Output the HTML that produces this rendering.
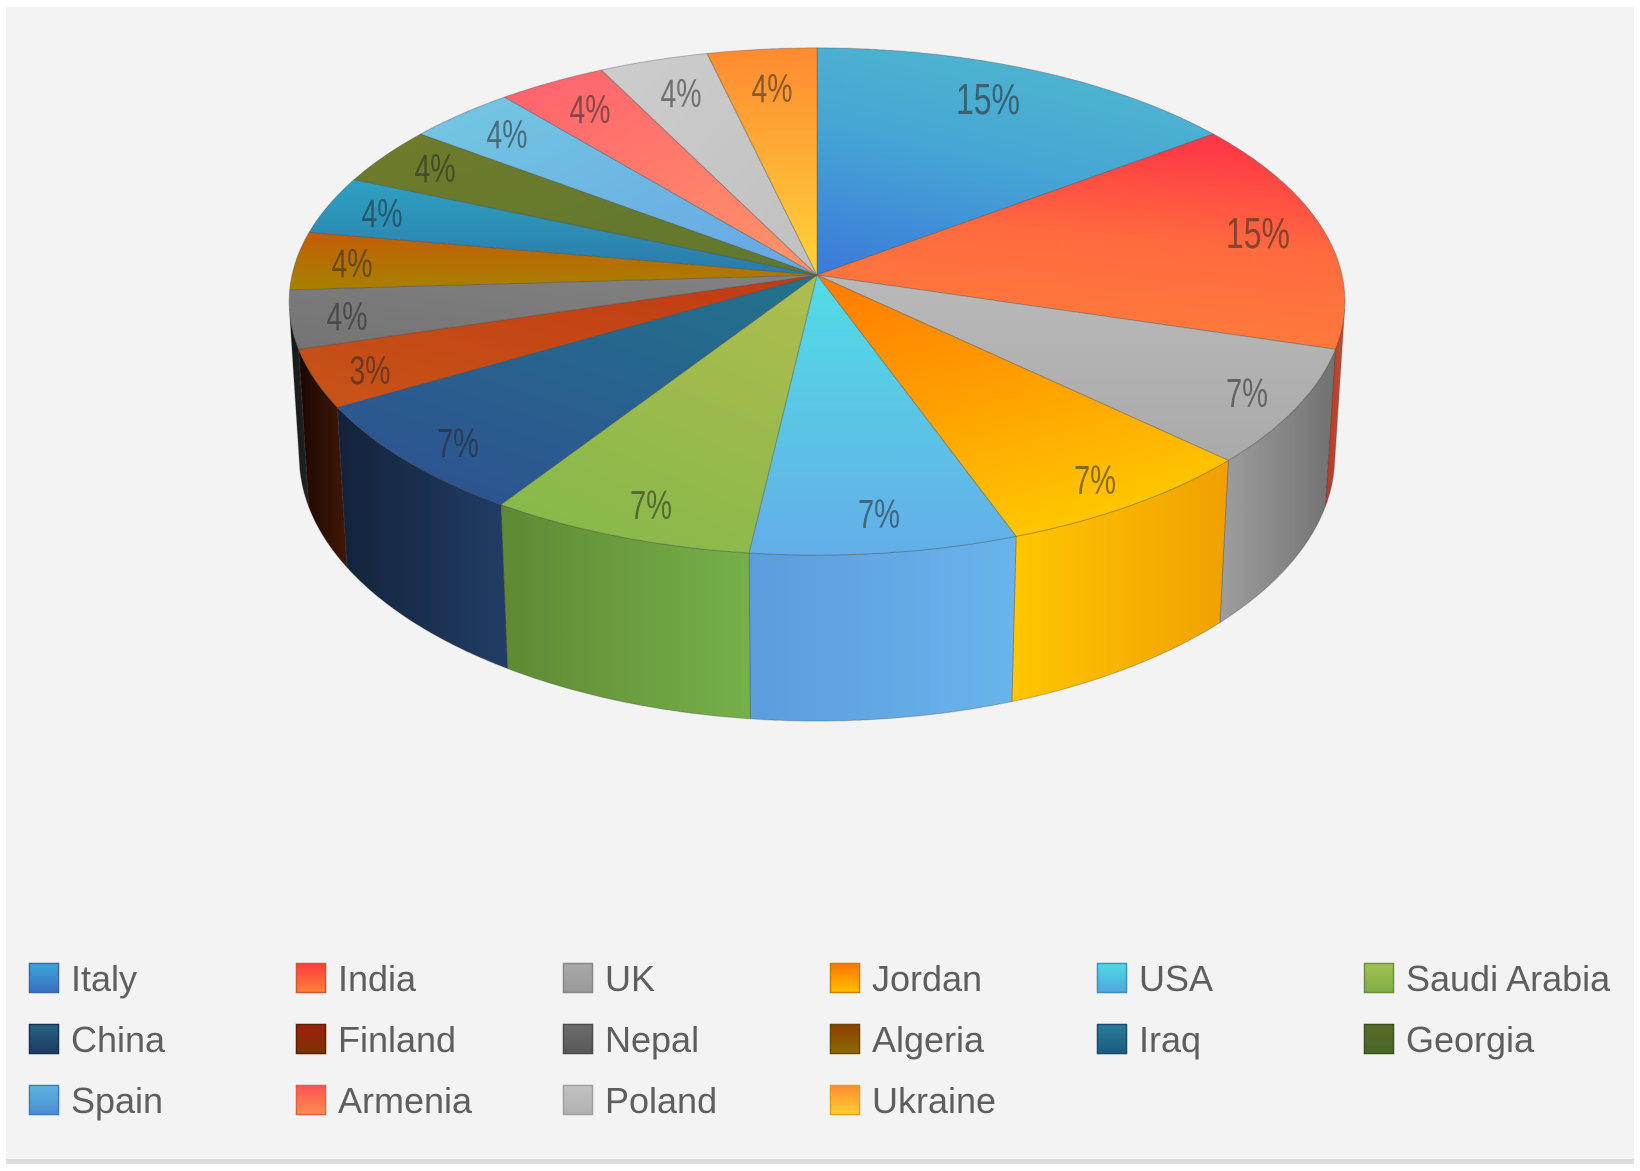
<!DOCTYPE html>
<html>
<head>
<meta charset="utf-8">
<style>
html,body{margin:0;padding:0;background:#fff;}
svg{display:block;}
text{font-family:"Liberation Sans",Arial,sans-serif;}
</style>
</head>
<body>
<svg id="chart" width="1640" height="1171" viewBox="0 0 1640 1171" xmlns="http://www.w3.org/2000/svg">
<rect x="0" y="0" width="1640" height="1171" fill="#ffffff"/>
<rect x="6" y="7" width="1628" height="1152" fill="#f3f3f3"/>
<rect x="6" y="1159" width="1628" height="5" fill="#dcdcdc"/>
<defs id="defs">
<linearGradient id="m0" x1="0" y1="0" x2="0" y2="1"><stop offset="0" stop-color="#3aa6d8"/><stop offset="1" stop-color="#3a6fc0"/></linearGradient>
<linearGradient id="m1" x1="0" y1="0" x2="0" y2="1"><stop offset="0" stop-color="#ff3b3b"/><stop offset="1" stop-color="#ff803a"/></linearGradient>
<linearGradient id="m2" x1="0" y1="0" x2="0" y2="1"><stop offset="0" stop-color="#a8a8a8"/><stop offset="1" stop-color="#999999"/></linearGradient>
<linearGradient id="m3" x1="0" y1="0" x2="0" y2="1"><stop offset="0" stop-color="#ff7400"/><stop offset="1" stop-color="#ffc000"/></linearGradient>
<linearGradient id="m4" x1="0" y1="0" x2="0" y2="1"><stop offset="0" stop-color="#4fdae8"/><stop offset="1" stop-color="#4fa6dc"/></linearGradient>
<linearGradient id="m5" x1="0" y1="0" x2="0" y2="1"><stop offset="0" stop-color="#a2c052"/><stop offset="1" stop-color="#80ae48"/></linearGradient>
<linearGradient id="m6" x1="0" y1="0" x2="0" y2="1"><stop offset="0" stop-color="#246282"/><stop offset="1" stop-color="#1e3c66"/></linearGradient>
<linearGradient id="m7" x1="0" y1="0" x2="0" y2="1"><stop offset="0" stop-color="#a01e10"/><stop offset="1" stop-color="#7a3400"/></linearGradient>
<linearGradient id="m8" x1="0" y1="0" x2="0" y2="1"><stop offset="0" stop-color="#6c6c6c"/><stop offset="1" stop-color="#585858"/></linearGradient>
<linearGradient id="m9" x1="0" y1="0" x2="0" y2="1"><stop offset="0" stop-color="#8e3e00"/><stop offset="1" stop-color="#8a6c00"/></linearGradient>
<linearGradient id="m10" x1="0" y1="0" x2="0" y2="1"><stop offset="0" stop-color="#2a7c9c"/><stop offset="1" stop-color="#1a5a80"/></linearGradient>
<linearGradient id="m11" x1="0" y1="0" x2="0" y2="1"><stop offset="0" stop-color="#5a6a28"/><stop offset="1" stop-color="#486828"/></linearGradient>
<linearGradient id="m12" x1="0" y1="0" x2="0" y2="1"><stop offset="0" stop-color="#5cb4e2"/><stop offset="1" stop-color="#4a8ed0"/></linearGradient>
<linearGradient id="m13" x1="0" y1="0" x2="0" y2="1"><stop offset="0" stop-color="#ff5252"/><stop offset="1" stop-color="#ff8c52"/></linearGradient>
<linearGradient id="m14" x1="0" y1="0" x2="0" y2="1"><stop offset="0" stop-color="#c2c2c2"/><stop offset="1" stop-color="#b0b0b0"/></linearGradient>
<linearGradient id="m15" x1="0" y1="0" x2="0" y2="1"><stop offset="0" stop-color="#ff8a30"/><stop offset="1" stop-color="#ffd030"/></linearGradient>
</defs>
<g id="walls"></g>
<g id="tops"></g>

<g fill="#262626" fill-opacity="0.55" text-anchor="middle">
<text x="988" y="114" font-size="44" textLength="64" lengthAdjust="spacingAndGlyphs">15%</text>
<text x="1258" y="248" font-size="44" textLength="64" lengthAdjust="spacingAndGlyphs">15%</text>
<text x="1247" y="407" font-size="41" textLength="42" lengthAdjust="spacingAndGlyphs">7%</text>
<text x="1095" y="494" font-size="41" textLength="42" lengthAdjust="spacingAndGlyphs">7%</text>
<text x="879" y="528" font-size="41" textLength="42" lengthAdjust="spacingAndGlyphs">7%</text>
<text x="651" y="519" font-size="41" textLength="42" lengthAdjust="spacingAndGlyphs">7%</text>
<text x="458" y="457" font-size="41" textLength="42" lengthAdjust="spacingAndGlyphs">7%</text>
<text x="370" y="384" font-size="40" textLength="41" lengthAdjust="spacingAndGlyphs">3%</text>
<text x="347" y="330" font-size="40" textLength="41" lengthAdjust="spacingAndGlyphs">4%</text>
<text x="352" y="277" font-size="40" textLength="41" lengthAdjust="spacingAndGlyphs">4%</text>
<text x="382" y="227" font-size="40" textLength="41" lengthAdjust="spacingAndGlyphs">4%</text>
<text x="435" y="182" font-size="40" textLength="41" lengthAdjust="spacingAndGlyphs">4%</text>
<text x="507" y="148" font-size="40" textLength="41" lengthAdjust="spacingAndGlyphs">4%</text>
<text x="590" y="123" font-size="40" textLength="41" lengthAdjust="spacingAndGlyphs">4%</text>
<text x="681" y="107" font-size="40" textLength="41" lengthAdjust="spacingAndGlyphs">4%</text>
<text x="772" y="102" font-size="40" textLength="41" lengthAdjust="spacingAndGlyphs">4%</text>
</g>

<g stroke-width="1.5">
<rect x="29.5" y="963.5" width="29" height="29" fill="url(#m0)" stroke="#3a68a4"/>
<rect x="296.5" y="963.5" width="29" height="29" fill="url(#m1)" stroke="#cc5a30"/>
<rect x="563.5" y="963.5" width="29" height="29" fill="url(#m2)" stroke="#888888"/>
<rect x="830.5" y="963.5" width="29" height="29" fill="url(#m3)" stroke="#c48000"/>
<rect x="1097.5" y="963.5" width="29" height="29" fill="url(#m4)" stroke="#3f90c0"/>
<rect x="1364.5" y="963.5" width="29" height="29" fill="url(#m5)" stroke="#6a9040"/>
<rect x="29.5" y="1024.5" width="29" height="29" fill="url(#m6)" stroke="#1a3050"/>
<rect x="296.5" y="1024.5" width="29" height="29" fill="url(#m7)" stroke="#5a2000"/>
<rect x="563.5" y="1024.5" width="29" height="29" fill="url(#m8)" stroke="#4a4a4a"/>
<rect x="830.5" y="1024.5" width="29" height="29" fill="url(#m9)" stroke="#6a4800"/>
<rect x="1097.5" y="1024.5" width="29" height="29" fill="url(#m10)" stroke="#1a4a6a"/>
<rect x="1364.5" y="1024.5" width="29" height="29" fill="url(#m11)" stroke="#3a5020"/>
<rect x="29.5" y="1085.5" width="29" height="29" fill="url(#m12)" stroke="#3a7cc0"/>
<rect x="296.5" y="1085.5" width="29" height="29" fill="url(#m13)" stroke="#e06040"/>
<rect x="563.5" y="1085.5" width="29" height="29" fill="url(#m14)" stroke="#a0a0a0"/>
<rect x="830.5" y="1085.5" width="29" height="29" fill="url(#m15)" stroke="#e0a020"/>
</g>
<g fill="#5e5e5e" font-size="36">
<text x="71" y="991">Italy</text>
<text x="338" y="991">India</text>
<text x="605" y="991">UK</text>
<text x="872" y="991">Jordan</text>
<text x="1139" y="991">USA</text>
<text x="1406" y="991">Saudi Arabia</text>
<text x="71" y="1052">China</text>
<text x="338" y="1052">Finland</text>
<text x="605" y="1052">Nepal</text>
<text x="872" y="1052">Algeria</text>
<text x="1139" y="1052">Iraq</text>
<text x="1406" y="1052">Georgia</text>
<text x="71" y="1113">Spain</text>
<text x="338" y="1113">Armenia</text>
<text x="605" y="1113">Poland</text>
<text x="872" y="1113">Ukraine</text>
</g>
</svg>
<script>
(function(){
  var F=4415, D=8.41, PH=0.4981, CX=817, CY=275, H=0.341;
  var sp=Math.sin(PH), cp=Math.cos(PH);
  function P(t,r,y){
    var a=t*Math.PI/180, X=r*Math.sin(a), Z=r*Math.cos(a);
    var vy=y-D*sp, vz=Z+D*cp;
    var dep=-vy*sp+vz*cp, yc=vy*cp+vz*sp;
    return [CX+F*X/dep, CY-F*yc/dep];
  }
  function f(p){return p[0].toFixed(1)+','+p[1].toFixed(1);}
  var data=[
    [4,[["#4fb6d0",0],["#45a4d4",0.5],["#3c7cda",1]],[0.55,0,0.15,1],null],
    [4,[["#ff3846",0],["#ff6a3e",0.45],["#ff7e3b",1]],[0.5,0,0.3,1],["#b03a2a","#c84a30"]],
    [2,[["#b9b9b9",0],["#aaaaaa",1]],[0.5,0,0.5,1],["#9e9e9e","#717171"]],
    [2,[["#ff7c00",0],["#ffa000",0.5],["#ffc700",1]],[0.1,0,0.5,1],["#ffc600","#f0a000"]],
    [2,[["#52dce6",0],["#5ac6e6",0.5],["#63aee8",1]],[0.5,0,0.5,1],["#5b9ddc","#69b4ec"]],
    [2,[["#abbd4e",0],["#9aba4c",0.5],["#86ba4a",1]],[0.8,0,0.3,1],["#5e8934","#76b048"]],
    [2,[["#22728c",0],["#28628e",0.5],["#2d5290",1]],[0.9,0,0.2,1],["#132239","#213d66"]],
    [1,[["#c03a12",0],["#c85418",1]],[1,0,0,1],["#1c0700","#401808"]],
    [1,[["#828282",0],["#747474",1]],[1,0,0,1],["#161616","#222222"]],
    [1,[["#c45c08",0],["#b47002",0.5],["#a88000",1]],[0,0,0,1],null],
    [1,[["#2ea2c2",0],["#2a7aaa",1]],[0,0,0,1],null],
    [1,[["#6f7b2a",0],["#5e7830",1]],[0,0,1,1],null],
    [1,[["#74c8e2",0],["#66a6e4",1]],[0,0,1,1],null],
    [1,[["#ff606e",0],["#ff9668",1]],[0,0,1,1],null],
    [1,[["#cdcdcd",0],["#c0c0c0",1]],[0,0,1,1],null],
    [1,[["#ff8a30",0],["#ffd43a",1]],[0.5,0,0.5,1],null]
  ];
  var ts1=Math.acos(-1/(D*cp))*180/Math.PI, ts2=360-ts1;
  var defs='', walls='', tops='', a=0;
  for(var i=0;i<data.length;i++){
    var sl=data[i], span=sl[0]/27*360, a0=a, a1=a+span; a=a1;
    var g='<linearGradient id="t'+i+'" x1="'+sl[2][0]+'" y1="'+sl[2][1]+'" x2="'+sl[2][2]+'" y2="'+sl[2][3]+'">';
    for(var k=0;k<sl[1].length;k++){g+='<stop offset="'+sl[1][k][1]+'" stop-color="'+sl[1][k][0]+'"/>';}
    g+='</linearGradient>';
    defs+=g;
    var n=Math.ceil(span/0.5), s='M'+f(P(0,0,0));
    for(var k2=0;k2<=n;k2++){s+='L'+f(P(a0+span*k2/n,1,0));}
    s+='Z';
    tops+='<path d="'+s+'" fill="url(#t'+i+')" stroke="#4a4a4a" stroke-opacity="0.35" stroke-width="1" stroke-linejoin="round"/>';
    var w0=Math.max(a0,ts1), w1=Math.min(a1,ts2);
    if(w1>w0 && sl[3]){
      defs+='<linearGradient id="w'+i+'" x1="0" y1="0" x2="1" y2="0"><stop offset="0" stop-color="'+sl[3][0]+'"/><stop offset="1" stop-color="'+sl[3][1]+'"/></linearGradient>';
      var wn=Math.max(2,Math.ceil((w1-w0)/0.5)), ws='';
      for(var j=0;j<=wn;j++){ws+=(j?'L':'M')+f(P(w0+(w1-w0)*j/wn,1,0));}
      for(var j2=wn;j2>=0;j2--){ws+='L'+f(P(w0+(w1-w0)*j2/wn,1,-H));}
      ws+='Z';
      walls+='<path d="'+ws+'" fill="url(#w'+i+')" stroke="#3a3a3a" stroke-opacity="0.3" stroke-width="1" stroke-linejoin="round"/>';
    }
  }
  document.getElementById('defs').insertAdjacentHTML('beforeend',defs);
  document.getElementById('walls').innerHTML=walls;
  document.getElementById('tops').innerHTML=tops;
})();
</script>
</body>
</html>
